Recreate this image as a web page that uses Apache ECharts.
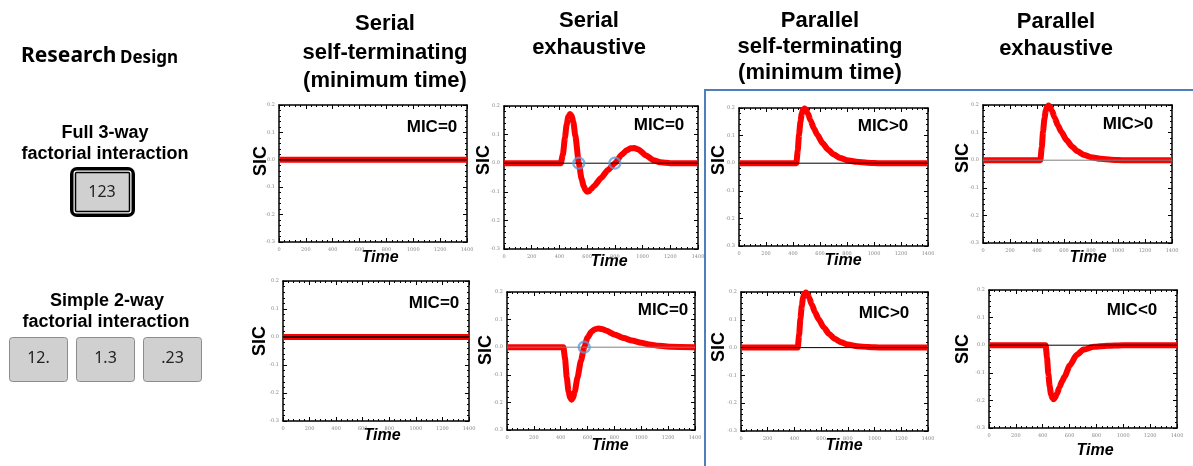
<!DOCTYPE html>
<html>
<head>
<meta charset="utf-8">
<title>SIC predictions</title>
<script src="https://cdn.jsdelivr.net/npm/echarts@6/dist/echarts.min.js"></script>
<style>
  html, body { margin: 0; padding: 0; background: #fff; }
  #chart { width: 1193px; height: 466px; }
</style>
</head>
<body>
<div id="chart"></div>
<script>
// axis ranges / ticks
const timeTicks = [0, 200, 400, 600, 800, 1000, 1200, 1400]
const sicTicks = [-0.3, -0.2, -0.1, 0.0, 0.1, 0.2]

// SIC curves (time in ms, SIC value)
const flatTime = [0, 1400]
const flatSic = [0, 0]

const serialExh3Time = [0, 410, 425, 440, 452, 464, 476, 488, 500, 515, 540, 560, 575, 588, 600, 613, 630, 650, 700, 750, 800, 850, 885, 915, 940, 970, 1025, 1080, 1130, 1200, 1400]
const serialExh3Sic = [0, 0, 0.03, 0.09, 0.135, 0.162, 0.172, 0.166, 0.145, 0.095, 0, -0.055, -0.08, -0.094, -0.1, -0.098, -0.09, -0.08, -0.052, -0.024, 0, 0.03, 0.045, 0.052, 0.053, 0.048, 0.027, 0.01, 0.003, 0, 0]
const serialExh3Cross = [540, 800]

const serialExh2Time = [0, 420, 432, 445, 458, 470, 481, 492, 505, 525, 550, 575, 600, 630, 655, 680, 705, 740, 800, 870, 930, 1000, 1060, 1130, 1220, 1400]
const serialExh2Sic = [0, 0, -0.04, -0.11, -0.16, -0.183, -0.19, -0.183, -0.16, -0.11, -0.05, 0, 0.035, 0.057, 0.065, 0.0675, 0.066, 0.06, 0.046, 0.033, 0.024, 0.016, 0.01, 0.005, 0.002, 0]
const serialExh2Cross = [575]

const parallelPosTime = [0, 425, 435, 445, 455, 465, 475, 486, 497, 510, 530, 555, 580, 620, 660, 700, 750, 800, 870, 950, 1050, 1400]
const parallelPosSic = [0, 0, 0.045, 0.105, 0.15, 0.18, 0.194, 0.198, 0.194, 0.18, 0.155, 0.126, 0.103, 0.072, 0.049, 0.032, 0.019, 0.011, 0.005, 0.002, 0, 0]

const parallelNegTime = [0, 422, 432, 442, 452, 462, 472, 481, 492, 505, 525, 545, 563, 602, 653, 704, 781, 880, 1000, 1400]
const parallelNegSic = [0, 0, -0.045, -0.105, -0.15, -0.178, -0.192, -0.196, -0.19, -0.177, -0.152, -0.13, -0.113, -0.073, -0.035, -0.016, -0.006, -0.002, 0, 0]

const micLabels = ['MIC=0', 'MIC=0', 'MIC>0', 'MIC>0', 'MIC=0', 'MIC=0', 'MIC>0', 'MIC<0']
const headerLines = [
  ['Serial', 'self-terminating', '(minimum time)'],
  ['Serial', 'exhaustive'],
  ['Parallel', 'self-terminating', '(minimum time)'],
  ['Parallel', 'exhaustive']
]
const cells3 = ['123']
const cells2 = ['12.', '1.3', '.23']

const curves = [
  { time: flatTime, sic: flatSic, cross: [] },
  { time: serialExh3Time, sic: serialExh3Sic, cross: serialExh3Cross },
  { time: parallelPosTime, sic: parallelPosSic, cross: [] },
  { time: parallelPosTime, sic: parallelPosSic, cross: [] },
  { time: flatTime, sic: flatSic, cross: [] },
  { time: serialExh2Time, sic: serialExh2Sic, cross: serialExh2Cross },
  { time: parallelPosTime, sic: parallelPosSic, cross: [] },
  { time: parallelNegTime, sic: parallelNegSic, cross: [] }
]

// layout
const grids = [
  { left: 279, top: 105, width: 188, height: 137 },
  { left: 504, top: 106, width: 194, height: 143 },
  { left: 739, top: 108, width: 189, height: 138 },
  { left: 983, top: 105, width: 189, height: 138 },
  { left: 283, top: 281, width: 186, height: 140 },
  { left: 507, top: 292, width: 188, height: 138 },
  { left: 741, top: 292, width: 187, height: 139 },
  { left: 989, top: 290, width: 188, height: 138 }
]
const micPos = [[432, 127], [659, 125], [883, 126], [1128, 124], [434, 303], [663, 310], [884, 313], [1132, 310]]
const sicPos = [[261, 161], [484, 160], [719, 160], [963, 158], [260, 341], [486, 350], [719, 347], [963, 349]]
const timePos = [[380, 258], [609, 262], [843, 261], [1088, 258], [382, 436], [610, 446], [844, 446], [1095, 451]]
const zeroColor = ['#000', '#000', '#000', '#7f7f7f', '#000', '#7f7f7f', '#000', '#000']
const headerPos = [
  { x: 385, y: 24, lh: 28.5 },
  { x: 589, y: 21, lh: 27 },
  { x: 820, y: 21, lh: 26 },
  { x: 1056, y: 22, lh: 26.5 }
]

const chart = echarts.init(document.getElementById('chart'))

const tickLabel = { fontSize: 5, color: '#888', fontFamily: 'DejaVu Serif' }
const frameLine = { onZero: false, lineStyle: { color: '#000', width: 1.5 } }
const inTick = { inside: true, length: 4, lineStyle: { color: '#000', width: 1 } }
const minor = { show: true, splitNumber: 5, length: 2, lineStyle: { color: '#000', width: 1 } }

const xAxes = []
const yAxes = []
const series = []
grids.forEach((g, i) => {
  const xBase = {
    type: 'value', gridIndex: i,
    min: timeTicks[0], max: timeTicks[timeTicks.length - 1], interval: 200,
    axisLine: frameLine, axisTick: inTick, minorTick: minor,
    splitLine: { show: false }
  }
  xAxes.push(Object.assign({}, xBase, {
    position: 'bottom',
    axisLabel: Object.assign({ margin: 5, formatter: v => String(v) }, tickLabel)
  }))
  xAxes.push(Object.assign({}, xBase, { position: 'top', axisLabel: { show: false } }))
  const yBase = {
    type: 'value', gridIndex: i,
    min: sicTicks[0], max: sicTicks[sicTicks.length - 1], interval: 0.1,
    axisLine: frameLine, axisTick: inTick, minorTick: minor,
    splitLine: { show: false }
  }
  yAxes.push(Object.assign({}, yBase, {
    position: 'left',
    axisLabel: Object.assign({ margin: 4, formatter: v => v.toFixed(1) }, tickLabel)
  }))
  yAxes.push(Object.assign({}, yBase, { position: 'right', axisLabel: { show: false } }))

  const c = curves[i]
  series.push({
    type: 'line', xAxisIndex: 2 * i, yAxisIndex: 2 * i,
    data: c.time.map((t, k) => [t, c.sic[k]]),
    showSymbol: false, smooth: 0.2, smoothMonotone: 'x',
    lineStyle: { color: '#ff0000', width: 6, cap: 'butt', join: 'round' },
    z: 2
  })
  series.push({
    type: 'line', xAxisIndex: 2 * i, yAxisIndex: 2 * i,
    data: flatTime.map((t, k) => [t, flatSic[k]]),
    showSymbol: false,
    lineStyle: { color: zeroColor[i], width: (i === 0 || i === 4) ? 1.5 : 1 },
    z: 3
  })
  if (c.cross.length) {
    series.push({
      type: 'scatter', xAxisIndex: 2 * i, yAxisIndex: 2 * i,
      data: c.cross.map(t => [t, 0]),
      symbol: 'circle', symbolSize: 11,
      itemStyle: { color: 'rgba(0,0,0,0)', borderColor: '#5b9bd5', borderWidth: 2.2 },
      z: 4
    })
  }
})

const graphic = []
const txt = (x, y, text, font, extra) => ({
  type: 'text', x: x, y: y,
  style: Object.assign({ text: text, font: font, fill: '#000', align: 'center', verticalAlign: 'middle' }, extra || {})
})

// column headers
headerLines.forEach((lines, i) => {
  lines.forEach((l, k) => {
    graphic.push(txt(headerPos[i].x, headerPos[i].y + k * headerPos[i].lh, l, 'bold 22px "Liberation Sans", Arial'))
  })
})

// panel annotations
grids.forEach((g, i) => {
  graphic.push(txt(micPos[i][0], micPos[i][1], micLabels[i], 'bold 17px "Liberation Sans", Arial'))
  const s = txt(sicPos[i][0], sicPos[i][1], 'SIC', 'bold 18px "Liberation Sans", Arial')
  s.rotation = Math.PI / 2
  graphic.push(s)
  graphic.push(txt(timePos[i][0], timePos[i][1], 'Time', 'italic bold 16px "Liberation Sans", Arial'))
})

// left side: research design
graphic.push(txt(21, 56, 'Research', 'bold 21px "Noto Sans"', { align: 'left' }))
graphic.push(txt(120, 58, 'Design', 'bold 17px "Noto Sans"', { align: 'left' }))
graphic.push(txt(105, 133, 'Full 3-way', 'bold 18px "Liberation Sans", Arial'))
graphic.push(txt(105, 154, 'factorial interaction', 'bold 18px "Liberation Sans", Arial'))
graphic.push(txt(107, 301, 'Simple 2-way', 'bold 18px "Liberation Sans", Arial'))
graphic.push(txt(106, 322, 'factorial interaction', 'bold 18px "Liberation Sans", Arial'))

graphic.push({ type: 'rect', shape: { x: 70, y: 167, width: 65, height: 50, r: 7 }, style: { fill: '#000' } })
graphic.push({ type: 'rect', shape: { x: 73.5, y: 170.5, width: 58, height: 43, r: 3 }, style: { fill: '#fff' } })
graphic.push({ type: 'rect', shape: { x: 75.5, y: 172.5, width: 54, height: 39, r: 1 }, style: { fill: '#d0d0d0', stroke: '#000', lineWidth: 1.5 } })
graphic.push(txt(102, 192, cells3[0], '16px "Noto Sans"', { fill: '#222' }))

const cellX = [9.5, 76.5, 143.5]
cells2.forEach((label, k) => {
  graphic.push({ type: 'rect', shape: { x: cellX[k], y: 337.5, width: 58, height: 44, r: 3 }, style: { fill: '#d0d0d0', stroke: '#8c8c8c', lineWidth: 1 } })
  graphic.push(txt(cellX[k] + 29, 358, label, '16px "Noto Sans"', { fill: '#222' }))
})

// blue frame around parallel models
graphic.push({
  type: 'polyline',
  shape: { points: [[705, 466], [705, 90], [1193, 90]] },
  style: { stroke: '#4f7fba', lineWidth: 2, fill: null }
})

chart.setOption({
  animation: false,
  backgroundColor: '#fff',
  grid: grids,
  xAxis: xAxes,
  yAxis: yAxes,
  series: series,
  graphic: graphic
})
</script>
</body>
</html>
